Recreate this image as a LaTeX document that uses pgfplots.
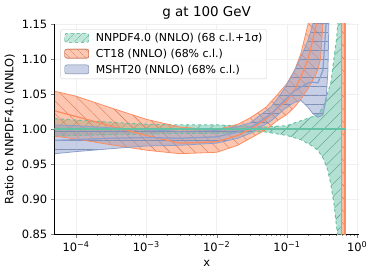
\documentclass[border=0pt]{standalone}
\usepackage{fontspec}
\setmainfont{DejaVu Sans}
\usepackage{pgfplots}
\usepackage{pgfplotstable}
\pgfplotsset{compat=1.18}
\usepgfplotslibrary{fillbetween}
\usetikzlibrary{patterns.meta}
\definecolor{cg}{RGB}{102,194,165}
\definecolor{co}{RGB}{252,141,98}
\definecolor{cb}{RGB}{141,160,203}

\pgfplotstableread{
x lo hi
5e-5 0.990 1.015
1e-4 0.991 1.013
3e-4 0.992 1.010
1e-3 0.993 1.007
3e-3 0.994 1.006
1e-2 0.994 1.006
3e-2 0.996 1.004
5e-2 0.996 1.003
0.1 0.991 1.005
0.158 0.985 1.012
0.22 0.977 1.017
0.276 0.970 1.021
0.33 0.958 1.032
0.38 0.942 1.052
0.42 0.922 1.065
0.466 0.895 1.100
0.51 0.860 1.130
0.53 0.845 1.150
0.56 0.800 1.200
0.60 0.700 1.300
}\greentab

\pgfplotstableread{
x lo mid hi
5e-5 0.990 1.026 1.054
1e-4 0.986 1.018 1.047
3e-4 0.978 1.005 1.031
1e-3 0.970 0.991 1.014
3e-3 0.965 0.980 1.003
1e-2 0.967 0.982 0.999
2e-2 0.977 0.991 1.007
3e-2 0.987 1.000 1.016
5e-2 0.999 1.014 1.031
7e-2 1.011 1.028 1.047
0.1 1.021 1.041 1.065
0.13 1.032 1.057 1.085
0.158 1.043 1.075 1.108
0.2 1.058 1.100 1.150
0.25 1.075 1.140 1.220
0.276 1.085 1.160 1.260
0.3 1.100 1.190 1.300
0.325 1.150 1.230 1.350
0.36 1.250 1.300 1.400
}\orangetab

\pgfplotstableread{
x lo mid hi
5e-5 0.965 0.984 1.006
1e-4 0.968 0.985 1.005
3e-4 0.972 0.987 1.002
1e-3 0.976 0.988 0.999
3e-3 0.977 0.987 0.997
1e-2 0.980 0.989 0.998
2e-2 0.987 0.996 1.004
3e-2 0.994 1.002 1.009
6e-2 1.012 1.022 1.032
0.09 1.028 1.040 1.056
0.126 1.038 1.054 1.082
0.158 1.041 1.060 1.103
0.2 1.031 1.066 1.127
0.234 1.022 1.067 1.150
0.276 1.017 1.066 1.190
0.325 1.020 1.084 1.250
0.36 1.041 1.150 1.300
0.383 1.084 1.200 1.350
0.395 1.150 1.250 1.400
0.42 1.300 1.350 1.450
}\bluetab

\pgfplotstableread{
x lo hi
0.586 0.80 1.20
0.69 0.80 1.20
}\striptab

\begin{document}
\begin{tikzpicture}
\begin{axis}[
  at={(54.3bp,40.7bp)}, anchor=south west,
  scale only axis, width=304.7bp, height=210.3bp,
  xmode=log, xmin=4.9e-5, xmax=1.06, ymin=0.85, ymax=1.15,
  axis x line*=bottom, axis y line*=left,
  axis line style={black, line width=0.8pt},
  tick align=outside, xtick pos=bottom, ytick pos=left,
  major tick length=3.5bp, minor tick length=2bp,
  xtick={1e-4,1e-3,1e-2,1e-1,1},
  xticklabels={10\textsuperscript{−4},10\textsuperscript{−3},10\textsuperscript{−2},10\textsuperscript{−1},10\textsuperscript{0}},
  ytick={0.85,0.90,0.95,1.00,1.05,1.10,1.15},
  yticklabel style={/pgf/number format/.cd, fixed, fixed zerofill, precision=2, assume math mode=true},
  tick label style={font=\fontsize{11.5}{13}\selectfont},
  grid=major, major grid style={gray!12, line width=0.5pt},
  title={g at 100 GeV}, title style={font=\fontsize{13.5}{15}\selectfont, yshift=-5bp},
  xlabel={x}, ylabel={Ratio to NNPDF4.0 (NNLO)},
  label style={font=\fontsize{11.5}{13}\selectfont},
  xlabel style={yshift=-2bp},
  legend cell align=left,
  legend style={at={(0.02,0.975)}, anchor=north west, draw=gray!35, rounded corners=2pt,
    fill=white, fill opacity=0.8, text opacity=1, draw opacity=1,
    font=\fontsize{11}{13}\selectfont, row sep=2pt, inner sep=2pt},
  legend image code/.code={\draw[#1] (2bp,-4bp) rectangle (26bp,5bp); \path (0bp,0bp) (31bp,0bp);},
]
% legend images
\addlegendimage{draw=cg, dashed, fill=cg!50, postaction={pattern={Lines[angle=45,distance=6bp,line width=0.4pt]}, pattern color=cg!80!black}}
\addlegendentry{NNPDF4.0 (NNLO) (68 c.l.+1σ)}
\addlegendimage{draw=co!80!black, fill=co!60, postaction={pattern={Lines[angle=-45,distance=6bp,line width=0.4pt]}, pattern color=co!80!black}}
\addlegendentry{CT18 (NNLO) (68\% c.l.)}
\addlegendimage{draw=cb!80!black, fill=cb!60}
\addlegendentry{MSHT20 (NNLO) (68\% c.l.)}

% NNPDF
\addplot[draw=none, name path=gU, forget plot] table[x=x,y=hi]{\greentab};
\addplot[draw=none, name path=gL, forget plot] table[x=x,y=lo]{\greentab};
\addplot[fill=cg, fill opacity=0.5, forget plot] fill between[of=gU and gL];
\addplot[pattern={Lines[angle=45,distance=9bp,line width=0.4pt]}, pattern color=cg!80!black, forget plot] fill between[of=gU and gL];

% CT18
\addplot[draw=none, name path=oU, forget plot] table[x=x,y=hi]{\orangetab};
\addplot[draw=none, name path=oL, forget plot] table[x=x,y=lo]{\orangetab};
\addplot[fill=co, fill opacity=0.5, forget plot] fill between[of=oU and oL];
\addplot[pattern={Lines[angle=-45,distance=9bp,line width=0.4pt]}, pattern color=co!85!black, forget plot] fill between[of=oU and oL];
\addplot[draw=none, name path=sU, forget plot] table[x=x,y=hi]{\striptab};
\addplot[draw=none, name path=sL, forget plot] table[x=x,y=lo]{\striptab};
\addplot[fill=co, fill opacity=0.6, forget plot] fill between[of=sU and sL];
\addplot[pattern={Lines[angle=-45,distance=9bp,line width=0.4pt]}, pattern color=co!85!black, forget plot] fill between[of=sU and sL];

% MSHT20
\addplot[draw=none, name path=bU, forget plot] table[x=x,y=hi]{\bluetab};
\addplot[draw=none, name path=bL, forget plot] table[x=x,y=lo]{\bluetab};
\addplot[fill=cb, fill opacity=0.5, forget plot] fill between[of=bU and bL];
\addplot[pattern={Lines[angle=0,distance=9bp,line width=0.4pt]}, pattern color=cb!90!black, forget plot] fill between[of=bU and bL];

% lines
\addplot[cg, dashed, line width=1pt, forget plot] table[x=x,y=hi]{\greentab};
\addplot[cg, dashed, line width=1pt, forget plot] table[x=x,y=lo]{\greentab};
\addplot[co, line width=0.8pt, forget plot] table[x=x,y=hi]{\orangetab};
\addplot[co, line width=0.8pt, forget plot] table[x=x,y=lo]{\orangetab};
\addplot[co, line width=1.3pt, forget plot] table[x=x,y=mid]{\orangetab};
\addplot[co, line width=0.8pt, forget plot] coordinates {(0.586,0.8) (0.586,1.2)};
\addplot[co, line width=1.3pt, forget plot] coordinates {(0.67,0.8) (0.67,1.2)};
\addplot[cb, line width=0.8pt, forget plot] table[x=x,y=hi]{\bluetab};
\addplot[cb, line width=0.8pt, forget plot] table[x=x,y=lo]{\bluetab};
\addplot[cb, line width=1.3pt, forget plot] table[x=x,y=mid]{\bluetab};
\addplot[cg, line width=1.5pt, forget plot] coordinates {(4.9e-5,1.0) (0.69,1.0)};
\end{axis}
\pgfresetboundingbox
\path[use as bounding box] (0,0) rectangle (374bp,275bp);
\end{tikzpicture}
\end{document}
